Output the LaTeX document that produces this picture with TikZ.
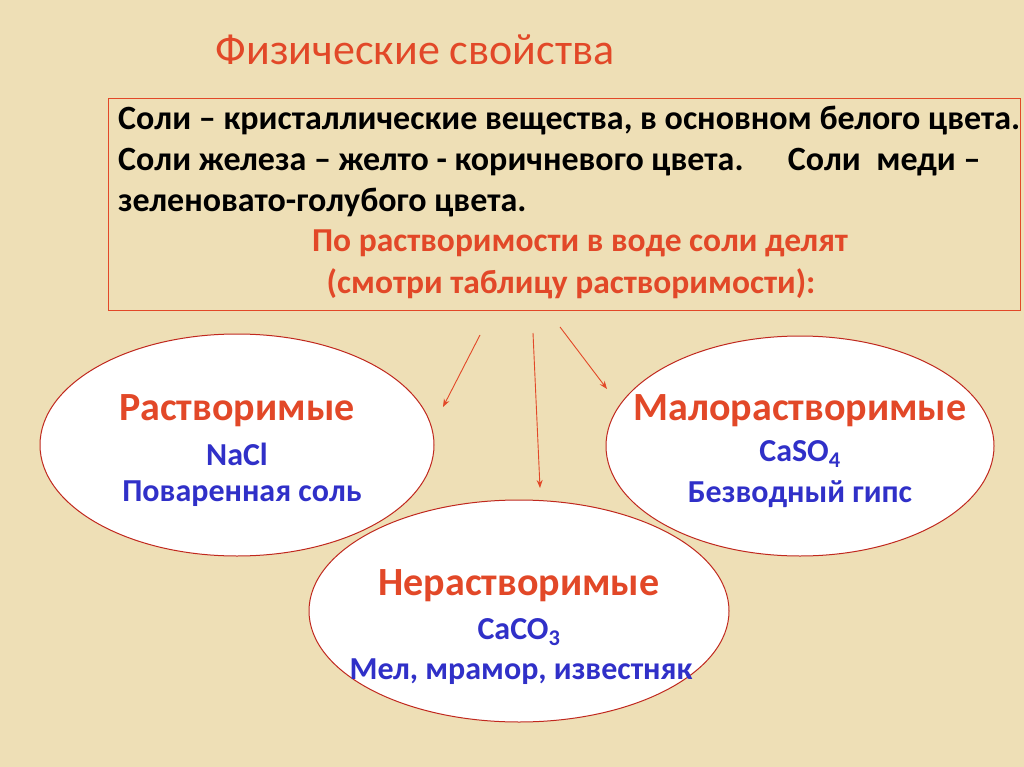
\documentclass[tikz,border=0pt]{standalone}
\usepackage{fontspec}
\setmainfont{Carlito}
\usetikzlibrary{arrows.meta}
\definecolor{bg}{RGB}{238,223,182}
\definecolor{tred}{RGB}{226,72,40}
\definecolor{bred}{RGB}{192,40,30}
\definecolor{tblue}{RGB}{48,48,200}
\begin{document}
\begin{tikzpicture}[x=1pt,y=-1pt,
  ell/.style={draw=bred, line width=1pt, fill=white},
  arr/.style={draw=tred, line width=0.9pt, -{Stealth[length=8pt,width=6pt]}},
  bl/.style={font=\fontsize{34}{40}\selectfont\bfseries, anchor=west, inner sep=0},
  rd/.style={font=\fontsize{33.5}{40}\selectfont\bfseries, text=tred, inner sep=0},
  eh/.style={font=\fontsize{40}{46}\selectfont\bfseries, text=tred, inner sep=0},
  eb/.style={font=\fontsize{32}{38}\selectfont\bfseries, text=tblue, inner sep=0}]
\fill[bg] (0,0) rectangle (1024,767);
\useasboundingbox (0,0) rectangle (1024,767);
\node[text=tred, font=\fontsize{44}{50}\selectfont, inner sep=0] (title) at (415,50) {Физические свойства};
\draw[draw=tred, line width=0.8pt] (108,98) rectangle (1020,310);
\node[bl] (l1) at (118,121) {Соли – кристаллические вещества, в основном белого цвета.};
\node[bl] (l2) at (118,162) {Соли железа – желто - коричневого цвета. \quad Соли \ меди –};
\node[bl] (l3) at (118,203) {зеленовато-голубого цвета.};
\node[rd] (r1) at (580,243) {По растворимости в воде соли делят};
\node[rd] (r2) at (571,284) {(смотри таблицу растворимости):};
\draw[ell] (237,445) ellipse [x radius=197, y radius=111];
\draw[ell] (800,446) ellipse [x radius=194, y radius=110];
\draw[ell] (519,611) ellipse [x radius=210, y radius=111];
\coordinate (a1s) at (480,335); \coordinate (a1e) at (443,407);
\coordinate (a2s) at (533,333); \coordinate (a2e) at (540,488);
\coordinate (a3s) at (560,327); \coordinate (a3e) at (607,389);
\draw[arr] (a1s) -- (a1e);
\draw[arr] (a2s) -- (a2e);
\draw[arr] (a3s) -- (a3e);
\node[eh] (e1a) at (237,411) {Растворимые};
\node[eb] (e1b) at (237,454) {NaCl};
\node[eb] (e1c) at (242,494) {Поваренная соль};
\node[eh] (e2a) at (800,411) {Малорастворимые};
\node[eb] (e2b) at (800,454) {CaSO\textsubscript{4}};
\node[eb] (e2c) at (800,494) {Безводный гипс};
\node[eh] (e3a) at (519,586) {Нерастворимые};
\node[eb] (e3b) at (519,632) {CaCO\textsubscript{3}};
\node[eb] (e3c) at (521,672) {Мел, мрамор, известняк};
\end{tikzpicture}
\end{document}
